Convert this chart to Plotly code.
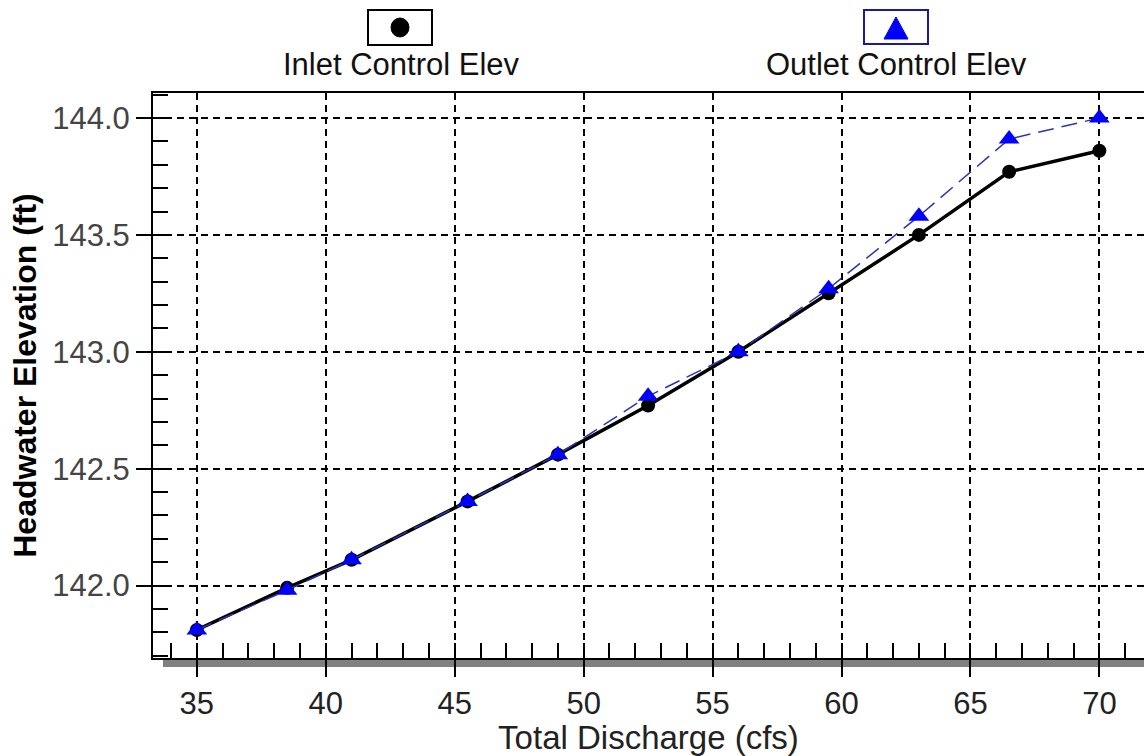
import plotly.graph_objects as go

W, H = 1144, 756

discharge = [35, 38.5, 41, 45.5, 49, 52.5, 56, 59.5, 63, 66.5, 70]
inlet_elev = [141.81, 141.99, 142.11, 142.36, 142.56, 142.77, 143.00, 143.25, 143.50, 143.77, 143.86]
outlet_elev = [141.81, 141.98, 142.11, 142.36, 142.56, 142.81, 143.00, 143.27, 143.58, 143.91, 144.00]

series_names = ["Inlet Control Elev", "Outlet Control Elev"]
x_title = "Total Discharge (cfs)"
y_title = "Headwater Elevation (ft)"

FONT = "Liberation Sans, Arial, sans-serif"

def px(x):
    return x / W

def py(y):
    return 1 - y / H

fig = go.Figure()

fig.add_trace(go.Scatter(
    x=discharge, y=inlet_elev, mode="lines+markers", name=series_names[0],
    line=dict(color="black", width=3.5),
    marker=dict(symbol="circle", size=14, color="black"),
    showlegend=False,
))
fig.add_trace(go.Scatter(
    x=discharge, y=outlet_elev, mode="lines+markers", name=series_names[1],
    line=dict(color="#2a36b0", width=1.5, dash="16px,8px"),
    marker=dict(symbol="triangle-up", size=18, color="#0000ff"),
    showlegend=False,
))

shapes = [
    # shadow under bottom axis
    dict(type="rect", xref="paper", yref="paper", x0=px(163), x1=1, y0=py(667), y1=py(659),
         fillcolor="#808080", line=dict(width=0), layer="below"),
    # legend boxes
    dict(type="rect", xref="paper", yref="paper", x0=px(368), x1=px(432), y0=py(45), y1=py(10),
         fillcolor="white", line=dict(color="black", width=2), layer="above"),
    dict(type="rect", xref="paper", yref="paper", x0=px(864), x1=px(928), y0=py(44), y1=py(10),
         fillcolor="white", line=dict(color="#1a1aa0", width=2), layer="above"),
    # legend symbols
    dict(type="circle", xref="paper", yref="paper", x0=px(391), x1=px(409), y0=py(37), y1=py(18),
         fillcolor="black", line=dict(color="black", width=1), layer="above"),
    dict(type="path", xref="paper", yref="paper",
         path="M {:.5f},{:.5f} L {:.5f},{:.5f} L {:.5f},{:.5f} Z".format(
             px(884), py(39), px(908), py(39), px(896), py(17)),
         fillcolor="#0000ff", line=dict(color="#0000ff", width=1), layer="above"),
]

annotations = [
    dict(text=series_names[0], xref="paper", yref="paper", x=px(401), y=py(65),
         showarrow=False, font=dict(family=FONT, size=31, color="#111"), xanchor="center", yanchor="middle"),
    dict(text=series_names[1], xref="paper", yref="paper", x=px(896), y=py(65),
         showarrow=False, font=dict(family=FONT, size=31, color="#111"), xanchor="center", yanchor="middle"),
]

fig.update_layout(
    width=W, height=H,
    margin=dict(l=0, r=0, t=0, b=0),
    paper_bgcolor="white", plot_bgcolor="white",
    font=dict(family=FONT, color="#222"),
    shapes=shapes, annotations=annotations,
    xaxis=dict(
        domain=[px(153), 1], range=[33.3, 71.73],
        tick0=35, dtick=5, ticks="outside", ticklen=17, tickwidth=1.5, tickcolor="black",
        tickfont=dict(family=FONT, size=31, color="#222"),
        showline=True, linecolor="black", linewidth=2, mirror=True,
        showgrid=True, gridcolor="black", gridwidth=1.5, griddash="7px,5px",
        zeroline=False,
        minor=dict(dtick=1, ticks="inside", ticklen=15, tickwidth=1.5, tickcolor="black", showgrid=False),
        title=dict(text=x_title, font=dict(family=FONT, size=33, color="#222"), standoff=2),
        anchor="y",
    ),
    yaxis=dict(
        domain=[py(658), py(93)], range=[141.69, 144.107],
        tick0=142, dtick=0.5, tickformat=".1f",
        ticks="outside", ticklen=15, tickwidth=1.5, tickcolor="black",
        tickfont=dict(family=FONT, size=31, color="#444"),
        showline=True, linecolor="black", linewidth=2, mirror=False,
        showgrid=True, gridcolor="black", gridwidth=1.5, griddash="7px,5px",
        zeroline=False,
        minor=dict(dtick=0.1, ticks="inside", ticklen=15, tickwidth=1.5, tickcolor="black", showgrid=False),
        title=dict(text="<b>" + y_title + "</b>", font=dict(family=FONT, size=32, color="black"), standoff=6),
        anchor="x",
    ),
)

fig.write_html(
    "out.html",
    config={"displayModeBar": False},
    post_script="document.body.style.margin='0';document.body.style.overflow='hidden';",
)
